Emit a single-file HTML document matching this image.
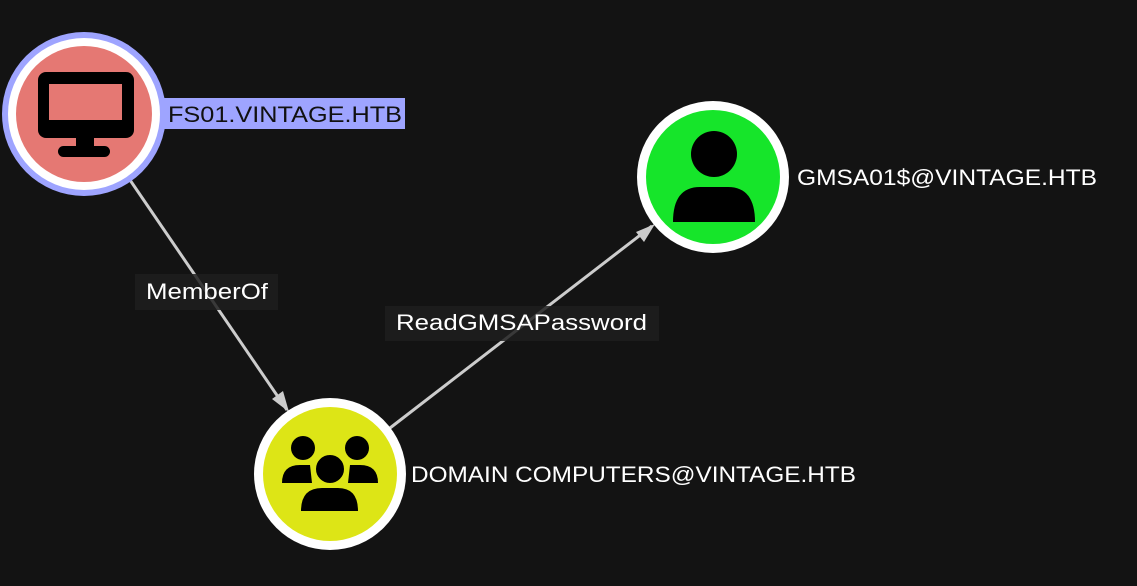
<!DOCTYPE html>
<html><head><style>
html,body{margin:0;padding:0;background:#131313;}
svg{display:block;}
text{font-family:"Liberation Sans",sans-serif;font-size:22px;}
</style></head><body>
<svg width="1137" height="586" viewBox="0 0 1137 586">
<rect width="1137" height="586" fill="#131313"/>
<!-- edges -->
<line x1="130" y1="180" x2="287" y2="410" stroke="#cccccc" stroke-width="3"/>
<path d="M289,412 L272,399 L283,391 Z" fill="#cccccc"/>
<line x1="390" y1="428" x2="652" y2="226" stroke="#cccccc" stroke-width="3"/>
<path d="M655,224 L636,232 L644,242 Z" fill="#cccccc"/>
<!-- edge labels -->
<rect x="135" y="274" width="143" height="36" fill="#1e1e1e" fill-opacity="0.85"/>
<text x="146" y="299" fill="#ffffff" textLength="122" lengthAdjust="spacingAndGlyphs">MemberOf</text>
<rect x="385" y="306" width="274" height="35" fill="#1e1e1e" fill-opacity="0.85"/>
<text x="396" y="330" fill="#ffffff" textLength="251" lengthAdjust="spacingAndGlyphs">ReadGMSAPassword</text>
<!-- FS01 -->
<circle cx="84" cy="114" r="82" fill="#9ea4ff"/>
<circle cx="84" cy="114" r="76" fill="#ffffff"/>
<circle cx="84" cy="114" r="68" fill="#e57873"/>
<rect x="38" y="72" width="96" height="66" rx="8" fill="#000"/>
<rect x="49" y="84" width="73" height="36" fill="#e57873"/>
<rect x="76" y="136" width="18" height="12" fill="#000"/>
<rect x="58" y="146" width="52" height="11" rx="5.5" fill="#000"/>
<rect x="164" y="98" width="241" height="31" fill="#9ea4ff"/>
<text x="168" y="122" fill="#111111" textLength="234" lengthAdjust="spacingAndGlyphs">FS01.VINTAGE.HTB</text>
<!-- GMSA -->
<circle cx="713" cy="177" r="76" fill="#ffffff"/>
<circle cx="713" cy="177" r="67" fill="#16e52a"/>
<circle cx="714" cy="154" r="23" fill="#000"/>
<path d="M673,222 Q673,187 700,187 L728,187 Q755,187 755,222 Z" fill="#000"/>
<text x="797" y="185" fill="#ffffff" textLength="300" lengthAdjust="spacingAndGlyphs">GMSA01$@VINTAGE.HTB</text>
<!-- DOMAIN COMPUTERS -->
<circle cx="330" cy="474" r="76" fill="#ffffff"/>
<circle cx="330" cy="474" r="67" fill="#dde516"/>
<circle cx="303" cy="448" r="12" fill="#000"/>
<circle cx="357" cy="448" r="12" fill="#000"/>
<path d="M282,483 Q282,465 300,465 L310,465 L312,483 Z" fill="#000"/>
<path d="M378,483 Q378,465 360,465 L350,465 L348,483 Z" fill="#000"/>
<circle cx="330" cy="469" r="15" fill="#000" stroke="#dde516" stroke-width="2"/>
<path d="M301,511 Q301,488 322,488 L338,488 Q358,488 358,511 Z" fill="#000"/>
<text x="411" y="482" fill="#ffffff" textLength="445" lengthAdjust="spacingAndGlyphs">DOMAIN COMPUTERS@VINTAGE.HTB</text>
</svg>
</body></html>
